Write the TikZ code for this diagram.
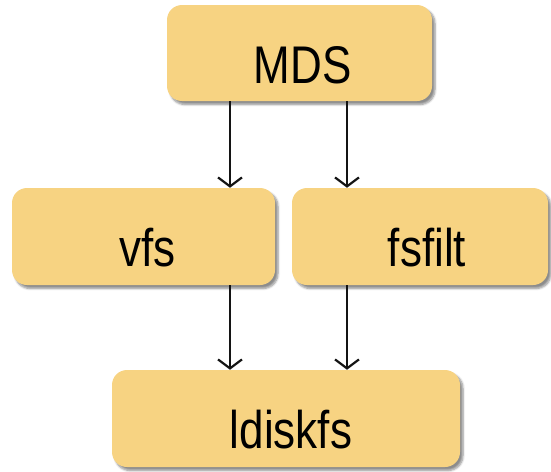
\documentclass[tikz,border=0pt]{standalone}
\usepackage{fontspec}
\setmainfont{Liberation Sans}[FakeStretch=0.83]
\usetikzlibrary{arrows.meta,shadows.blur}
\definecolor{boxfill}{RGB}{247,211,130}
\definecolor{arrowcol}{RGB}{20,20,20}
\begin{document}
\begin{tikzpicture}[x=1pt,y=-1pt,
  box/.style={fill=boxfill, rounded corners=15pt, inner sep=0pt,
    text height=60pt, text depth=0pt,
    font=\fontsize{53}{60}\selectfont,
    blur shadow={shadow xshift=3pt, shadow yshift=-3.5pt, shadow blur steps=6, shadow opacity=45}},
  arr/.style={draw=arrowcol, line width=2pt,
    -{Straight Barb[length=9pt,width=24pt,line width=2.2pt]}}]
\useasboundingbox (0,0) rectangle (551,471);
\node[box, minimum width=265pt, minimum height=96pt] (mds) at (299.5,53) {\kern6pt MDS};
\node[box, minimum width=263pt, minimum height=97pt] (vfs) at (143.5,236.5) {\kern8pt vfs};
\node[box, minimum width=256pt, minimum height=97pt] (fsfilt) at (420,236.5) {\kern14pt fsfilt};
\node[box, minimum width=348pt, minimum height=97pt] (ldiskfs) at (286,418.5) {\kern10pt ldiskfs};
\coordinate (cl) at (230,0);
\coordinate (cr) at (347,0);
\draw[arr] (mds.south -| cl) -- (vfs.north -| cl);
\draw[arr] (mds.south -| cr) -- (fsfilt.north -| cr);
\draw[arr] (vfs.south -| cl) -- (ldiskfs.north -| cl);
\draw[arr] (fsfilt.south -| cr) -- (ldiskfs.north -| cr);
\end{tikzpicture}
\end{document}
